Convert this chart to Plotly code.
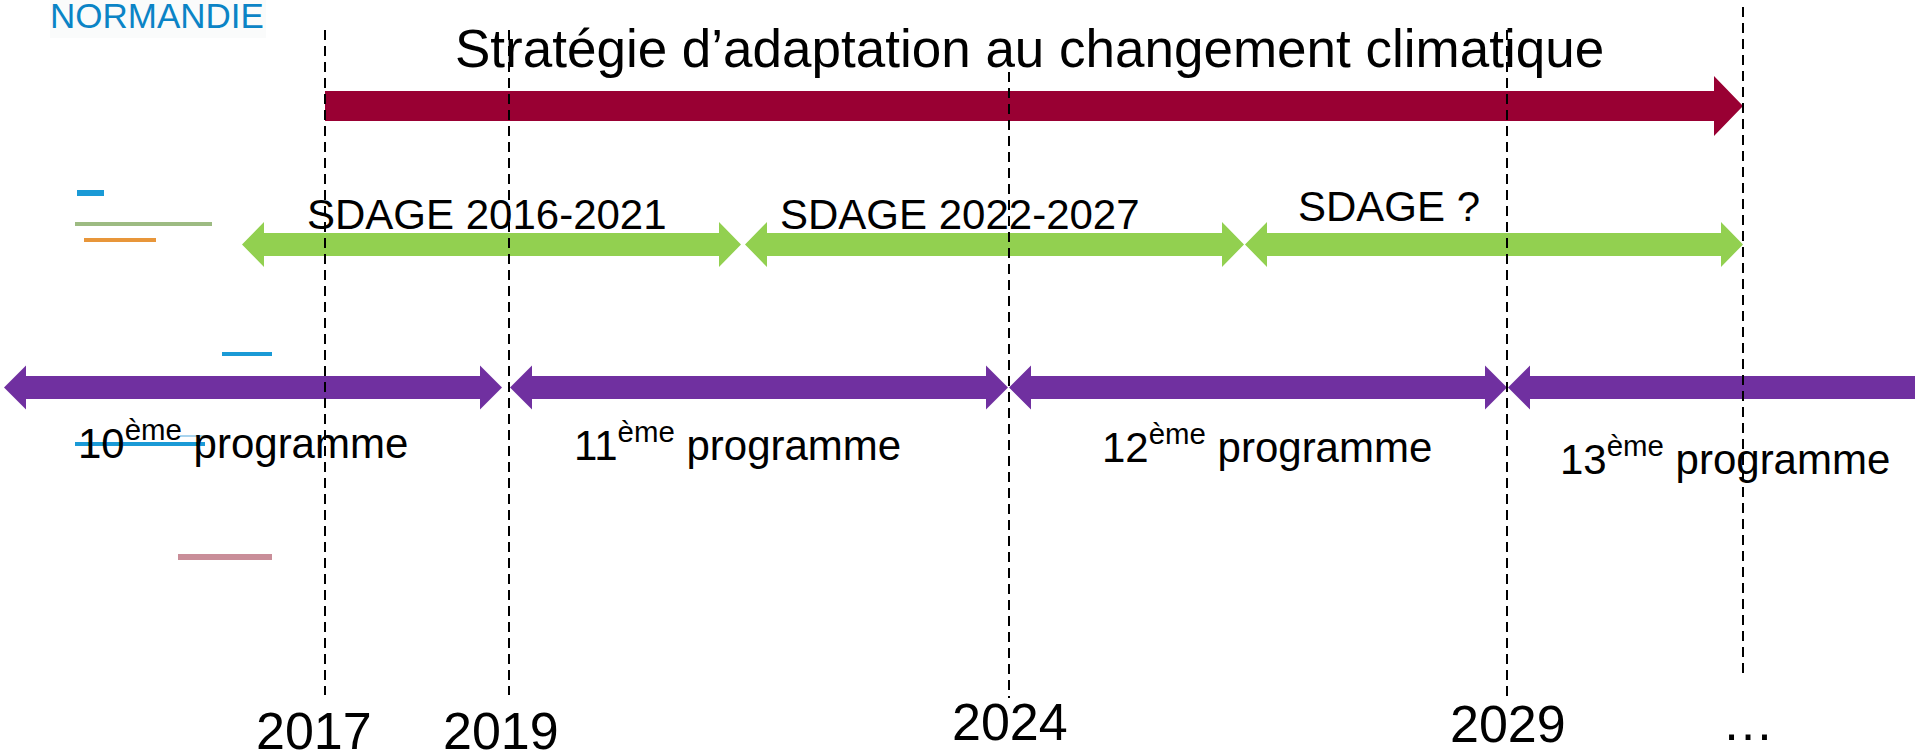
import plotly.graph_objects as go

# ---------------- data ----------------
title_text = "Stratégie d’adaptation au changement climatique"
strategy_start = [325]
strategy_end = [1743]

sdage_labels = ["SDAGE 2016-2021", "SDAGE 2022-2027", "SDAGE ?"]
sdage_start = [242, 745, 1245]
sdage_end = [741, 1244, 1743]

prog_labels = ["10<sup>ème</sup> programme", "11<sup>ème</sup> programme",
               "12<sup>ème</sup> programme", "13<sup>ème</sup> programme"]
prog_start = [4, 510, 1009, 1508]
prog_end = [502, 1008, 1507, 1940]
prog_open_right = [False, False, False, True]

year_labels = ["2017", "2019", "2024", "2029", "…"]
year_marks = [325, 509, 1009, 1507, 1743]
mark_top = [30, 30, 72, 30, 7]
mark_bottom = [695, 695, 698, 697, 673]

# label placement
title_pos = (1029, 68)
sdage_label_x = [487, 960, 1389]
sdage_label_base = [230, 230, 222]
prog_label_x = [243, 737, 1267, 1725]
prog_label_base = [459, 461, 463, 475]
year_label_x = [314, 501, 1010, 1508, 1748]
year_label_base = [749, 749, 740, 742, 740]

# stray decorative strokes (left side)
deco_x0 = [77, 75, 84, 222, 75, 180, 178]
deco_x1 = [104, 212, 156, 272, 205, 207, 272]
deco_y = [193, 224, 240, 354, 444, 436, 557]
deco_w = [6, 4, 4, 4, 4, 2, 6]
deco_c = ["#1A9AD6", "#9DBB82", "#E8963A", "#1A9AD6", "#1A9AD6", "#A9D4EE", "#C98E99"]

W, H = 1915, 752
FONT = "Arial, Liberation Sans, sans-serif"

fig = go.Figure()


def arrow(x0, x1, yc, sh, hh, hl, left=True, right=True):
    xs, ys = [], []
    if left:
        xs += [x0, x0 + hl, x0 + hl]
        ys += [yc, yc - hh, yc - sh]
    else:
        xs += [x0]
        ys += [yc - sh]
    if right:
        xs += [x1 - hl, x1 - hl, x1, x1 - hl, x1 - hl]
        ys += [yc - sh, yc - hh, yc, yc + hh, yc + sh]
    else:
        xs += [x1, x1]
        ys += [yc - sh, yc + sh]
    if left:
        xs += [x0 + hl, x0 + hl, x0]
        ys += [yc + sh, yc + hh, yc]
    else:
        xs += [x0, x0]
        ys += [yc + sh, yc - sh]
    return xs, ys


def add_poly(xs, ys, color):
    fig.add_trace(go.Scatter(x=xs, y=ys, mode="lines", fill="toself",
                             fillcolor=color, line=dict(width=0, color=color),
                             hoverinfo="skip", showlegend=False))


# logo background (very faint)
add_poly([50, 266, 266, 50, 50], [0, 0, 38, 38, 0], "#FAFBFB")

# strategy arrow (red)
for s, e in zip(strategy_start, strategy_end):
    xs, ys = arrow(s, e, 106, 15, 30, 29, left=False, right=True)
    add_poly(xs, ys, "#990033")

# SDAGE arrows (green)
for s, e in zip(sdage_start, sdage_end):
    xs, ys = arrow(s, e, 244.5, 11.5, 22.5, 22)
    add_poly(xs, ys, "#92D050")

# programme arrows (purple)
for s, e, o in zip(prog_start, prog_end, prog_open_right):
    xs, ys = arrow(s, e, 387.5, 11.5, 22, 22, left=True, right=not o)
    add_poly(xs, ys, "#7030A0")

# decorative strokes
for x0, x1, y, w, c in zip(deco_x0, deco_x1, deco_y, deco_w, deco_c):
    fig.add_trace(go.Scatter(x=[x0, x1], y=[y, y], mode="lines",
                             line=dict(width=w, color=c),
                             hoverinfo="skip", showlegend=False))

# dashed year markers
for x, t, b in zip(year_marks, mark_top, mark_bottom):
    fig.add_trace(go.Scatter(x=[x, x], y=[t, b], mode="lines",
                             line=dict(width=2, color="black", dash="10px,6px"),
                             hoverinfo="skip", showlegend=False))


def label(text, x, base, size, color="black"):
    fig.add_annotation(x=x, y=base + 0.212 * size, xref="x", yref="y",
                       text=text, showarrow=False, xanchor="center",
                       yanchor="bottom", borderpad=0,
                       font=dict(family=FONT, size=size, color=color))


def label_mid(text, x, base, size, color="black"):
    fig.add_annotation(x=x, y=base - 0.3465 * size, xref="x", yref="y",
                       text=text, showarrow=False, xanchor="center",
                       yanchor="middle", borderpad=0,
                       font=dict(family=FONT, size=size, color=color))


label(title_text, title_pos[0], title_pos[1], 53)
for t, x, b in zip(sdage_labels, sdage_label_x, sdage_label_base):
    label(t, x, b, 42)
for t, x, b in zip(prog_labels, prog_label_x, prog_label_base):
    label(t, x, b, 42)
for t, x, b in zip(year_labels, year_label_x, year_label_base):
    label_mid(t, x, b, 52)

# logo text
label_mid("NORMANDIE", 157, 28, 35, color="#0B84C6")

fig.update_layout(
    width=W, height=H, margin=dict(l=0, r=0, t=0, b=0, pad=0),
    paper_bgcolor="white", plot_bgcolor="white", showlegend=False,
    xaxis=dict(range=[0, W], visible=False, fixedrange=True),
    yaxis=dict(range=[H, 0], visible=False, fixedrange=True),
)

fig.write_html("out.html", config={"displayModeBar": False},
               post_script="document.body.style.margin='0';document.body.style.overflow='hidden';")
